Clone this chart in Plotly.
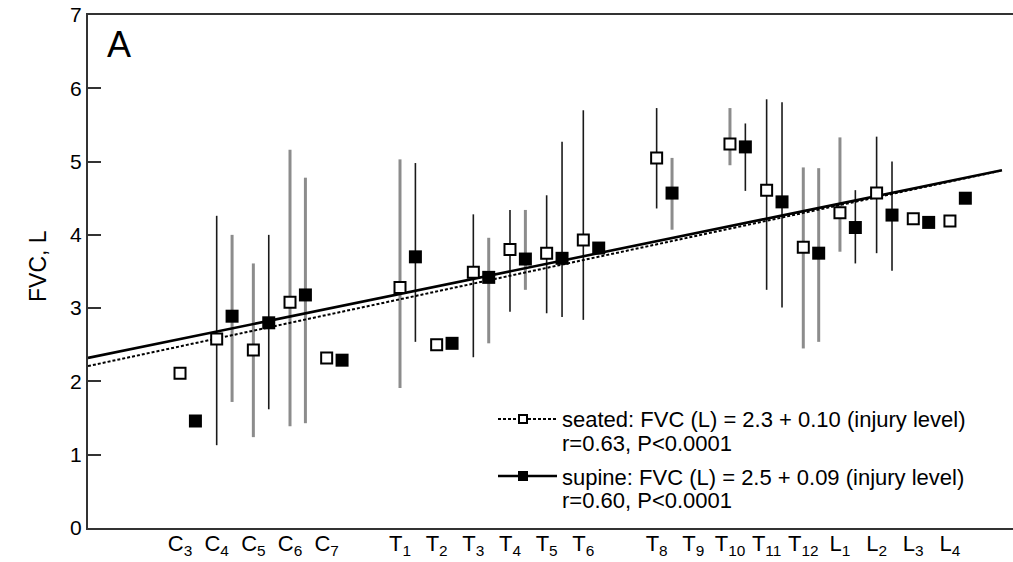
import plotly.graph_objects as go

# ---------------- data ----------------
tick_levels = [3, 4, 5, 6, 7, 9, 10, 11, 12, 13, 14, 16, 17, 18, 19, 20, 21, 22, 23, 24]
tick_labels = ["C<sub>3</sub>", "C<sub>4</sub>", "C<sub>5</sub>", "C<sub>6</sub>", "C<sub>7</sub>",
               "T<sub>1</sub>", "T<sub>2</sub>", "T<sub>3</sub>", "T<sub>4</sub>", "T<sub>5</sub>", "T<sub>6</sub>",
               "T<sub>8</sub>", "T<sub>9</sub>", "T<sub>10</sub>", "T<sub>11</sub>", "T<sub>12</sub>",
               "L<sub>1</sub>", "L<sub>2</sub>", "L<sub>3</sub>", "L<sub>4</sub>"]

point_levels = [3, 4, 5, 6, 7, 9, 10, 11, 12, 13, 14, 16, 18, 19, 20, 21, 22, 23, 24]

seated_fvc = [2.11, 2.58, 2.43, 3.08, 2.32, 3.28, 2.50, 3.49, 3.80, 3.75, 3.93,
              5.05, 5.24, 4.61, 3.83, 4.30, 4.57, 4.22, 4.19]
seated_low = [None, 1.13, 1.24, 1.39, None, 1.91, None, 2.33, 2.95, 2.93, 2.84,
              4.36, 4.95, 3.25, 2.45, 3.77, 3.75, None, None]
seated_high = [None, 4.26, 3.61, 5.16, None, 5.03, None, 4.28, 4.34, 4.54, 5.70,
               5.73, 5.73, 5.85, 4.92, 5.33, 5.34, None, None]

supine_fvc = [1.46, 2.89, 2.80, 3.18, 2.29, 3.70, 2.52, 3.42, 3.67, 3.68, 3.82,
              4.57, 5.20, 4.45, 3.75, 4.10, 4.27, 4.17, 4.50]
supine_low = [None, 1.72, 1.62, 1.43, None, 2.54, None, 2.52, 3.25, 2.88, None,
              4.07, 4.60, 3.01, 2.54, 3.61, 3.51, None, None]
supine_high = [None, 4.00, 4.00, 4.78, None, 4.98, None, 3.96, 4.34, 5.27, None,
               5.05, 5.52, 5.81, 4.91, 4.61, 5.00, None, None]

# regression lines as they appear in the figure (intercept, slope)
seated_fit = (2.157, 0.1071)
supine_fit = (2.27, 0.1027)
fit_range = (0.49, 25.42)

# ---------------- styles ----------------
supine_offset = 0.42
seated_bar_gray = [False, False, True, True, False, True, False, False, False, False, False,
                   False, True, False, True, True, False, False, False]
supine_bar_gray = [False, True, False, True, False, False, False, True, True, False, False,
                   True, False, False, True, False, False, False, False]
DARK = "#1a1a1a"
GRAY = "#8c8c8c"
FONT = "Liberation Sans, Arial, sans-serif"

fig = go.Figure()


def add_bars(xs, vals, lows, highs, gray_flags):
    for gray in (True, False):
        sx, sy, plus, minus = [], [], [], []
        for x, v, lo, hi, g in zip(xs, vals, lows, highs, gray_flags):
            if lo is None or g != gray:
                continue
            sx.append(x)
            sy.append(v)
            plus.append(hi - v)
            minus.append(v - lo)
        if not sx:
            continue
        fig.add_trace(go.Scatter(
            x=sx, y=sy, mode="markers", marker=dict(size=1, opacity=0),
            error_y=dict(type="data", symmetric=False, array=plus, arrayminus=minus,
                         color=GRAY if gray else DARK, thickness=3 if gray else 1.6, width=0),
            showlegend=False, hoverinfo="skip"))


supine_x = [l + supine_offset for l in point_levels]
add_bars(point_levels, seated_fvc, seated_low, seated_high, seated_bar_gray)
add_bars(supine_x, supine_fvc, supine_low, supine_high, supine_bar_gray)

# regression lines
fx = list(fit_range)
fig.add_trace(go.Scatter(x=fx, y=[seated_fit[0] + seated_fit[1] * x for x in fx], mode="lines",
                         line=dict(color="black", width=2, dash="3px,2px"), showlegend=False))
fig.add_trace(go.Scatter(x=fx, y=[supine_fit[0] + supine_fit[1] * x for x in fx], mode="lines",
                         line=dict(color="black", width=2.6), showlegend=False))

# markers
fig.add_trace(go.Scatter(x=point_levels, y=seated_fvc, mode="markers",
                         marker=dict(symbol="square", size=11, color="white",
                                     line=dict(color="black", width=2)),
                         showlegend=False))
fig.add_trace(go.Scatter(x=supine_x, y=supine_fvc, mode="markers",
                         marker=dict(symbol="square", size=13, color="black",
                                     line=dict(color="black", width=0)),
                         showlegend=False))

# ---------------- layout ----------------
W, H = 1013, 562
L, R, T, B = 88, 0, 15, 562 - 528
pw, ph = W - L - R, H - T - B


def px(xp):
    return (xp - L) / pw


def py(yp):
    return (H - B - yp) / ph


shapes = [
    dict(type="line", xref="paper", yref="paper", x0=px(498), x1=px(557), y0=py(419), y1=py(419),
         line=dict(color="black", width=2, dash="3px,2px")),
    dict(type="rect", xref="paper", yref="paper", x0=px(519), x1=px(527), y0=py(415), y1=py(423),
         fillcolor="white", line=dict(color="black", width=2)),
    dict(type="line", xref="paper", yref="paper", x0=px(498), x1=px(557), y0=py(476), y1=py(476),
         line=dict(color="black", width=2.6)),
    dict(type="rect", xref="paper", yref="paper", x0=px(518), x1=px(528), y0=py(471), y1=py(481),
         fillcolor="black", line=dict(color="black", width=0)),
]

legend_lines = [("seated: FVC (L) = 2.3 + 0.10 (injury level)", 419),
                ("r=0.63, P<0.0001", 443),
                ("supine: FVC (L) = 2.5 + 0.09 (injury level)", 477),
                ("r=0.60, P<0.0001", 500)]
annotations = []
for txt, yp in legend_lines:
    annotations.append(dict(text=txt, xref="paper", yref="paper", x=px(560), y=py(yp),
                            xanchor="left", yanchor="middle", showarrow=False,
                            font=dict(family=FONT, size=22, color="black")))
annotations.append(dict(text="A", xref="paper", yref="paper", x=px(105), y=py(44),
                        xanchor="left", yanchor="middle", showarrow=False,
                        font=dict(family=FONT, size=36, color="black")))
annotations.append(dict(text="FVC, L", xref="paper", yref="paper", x=px(38), y=py(266),
                        xanchor="center", yanchor="middle", showarrow=False, textangle=-90,
                        font=dict(family=FONT, size=23, color="black")))

fig.update_layout(
    width=W, height=H,
    margin=dict(l=L, r=R, t=T, b=B, autoexpand=False),
    paper_bgcolor="white", plot_bgcolor="white",
    shapes=shapes, annotations=annotations,
    showlegend=False,
    xaxis=dict(range=[0.49, 25.72], tickmode="array", tickvals=tick_levels, ticktext=tick_labels,
               showgrid=False, zeroline=False, showline=True, linecolor="#333", linewidth=2,
               mirror=True, ticks="", ticklabelstandoff=-5,
               tickfont=dict(family=FONT, size=22, color="black")),
    yaxis=dict(range=[0, 7], tickmode="array", tickvals=[0, 1, 2, 3, 4, 5, 6, 7],
               showgrid=False, zeroline=False, showline=True, linecolor="#333", linewidth=2,
               ticks="inside", ticklen=13, tickwidth=2, tickcolor="#333",
               tickfont=dict(family=FONT, size=21, color="black")),
)

fig.write_html("out.html", config={"displayModeBar": False},
               post_script="document.body.style.margin='0';document.body.style.overflow='hidden';")
